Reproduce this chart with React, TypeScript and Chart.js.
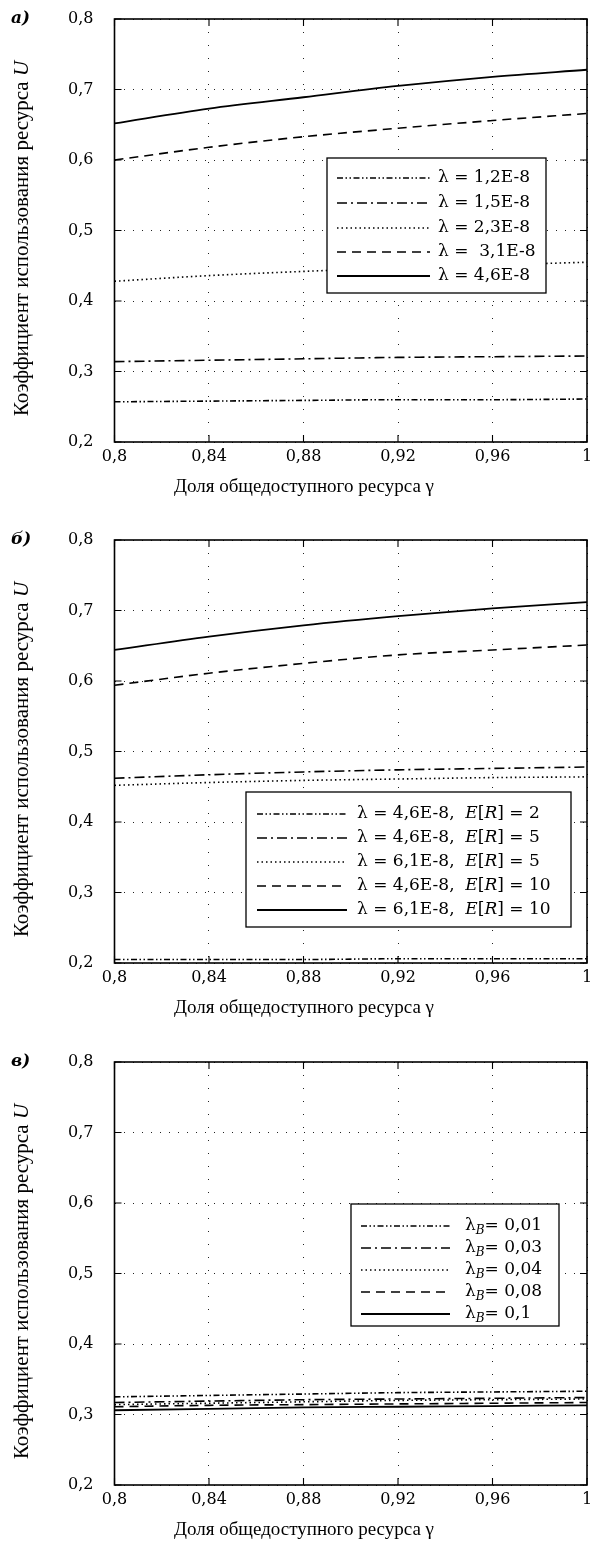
import React, { useEffect, useRef } from "react";
import { Chart, registerables } from "chart.js";

Chart.register(...registerables);

// ---------- data ----------
const xValues = [0.8, 0.84, 0.88, 0.92, 0.96, 1.0];
const xTicks = [0.8, 0.84, 0.88, 0.92, 0.96, 1.0];
const yTicks = [0.2, 0.3, 0.4, 0.5, 0.6, 0.7, 0.8];

const xTitle = "Доля общедоступного ресурса γ";
const yTitle = "Коэффициент использования ресурса *U*";

// Panel а
const aLetter = "а)";
const aLabels = ["λ = 1,2E-8", "λ = 1,5E-8", "λ = 2,3E-8", "λ =  3,1E-8", "λ = 4,6E-8"];
const aSeries1 = [0.257, 0.258, 0.259, 0.26, 0.26, 0.261];
const aSeries2 = [0.314, 0.316, 0.318, 0.32, 0.321, 0.322];
const aSeries3 = [0.428, 0.436, 0.442, 0.447, 0.451, 0.455];
const aSeries4 = [0.6, 0.618, 0.633, 0.645, 0.656, 0.666];
const aSeries5 = [0.652, 0.673, 0.689, 0.705, 0.718, 0.728];

// Panel б
const bLetter = "б)";
const bLabels = [
  "λ = 4,6E-8,  *E*[*R*] = 2",
  "λ = 4,6E-8,  *E*[*R*] = 5",
  "λ = 6,1E-8,  *E*[*R*] = 5",
  "λ = 4,6E-8,  *E*[*R*] = 10",
  "λ = 6,1E-8,  *E*[*R*] = 10",
];
const bSeries1 = [0.205, 0.205, 0.205, 0.206, 0.206, 0.206];
const bSeries2 = [0.462, 0.467, 0.471, 0.474, 0.476, 0.478];
const bSeries3 = [0.452, 0.456, 0.459, 0.461, 0.463, 0.464];
const bSeries4 = [0.594, 0.611, 0.625, 0.637, 0.644, 0.651];
const bSeries5 = [0.644, 0.663, 0.679, 0.692, 0.703, 0.712];

// Panel в
const cLetter = "в)";
const cLabels = ["λ_{B}= 0,01", "λ_{B}= 0,03", "λ_{B}= 0,04", "λ_{B}= 0,08", "λ_{B}= 0,1"];
const cSeries1 = [0.325, 0.327, 0.329, 0.331, 0.332, 0.333];
const cSeries2 = [0.317, 0.319, 0.321, 0.322, 0.323, 0.324];
const cSeries3 = [0.314, 0.316, 0.318, 0.32, 0.321, 0.322];
const cSeries4 = [0.311, 0.313, 0.314, 0.315, 0.316, 0.317];
const cSeries5 = [0.306, 0.308, 0.31, 0.311, 0.312, 0.313];

// ---------- styles ----------
const lineDashes = [[6, 2.5, 1.5, 2.5, 1.5, 2.5], [10, 4, 2, 4], [1.5, 3], [9, 6], []];
const lineWidths = [1.6, 1.6, 1.6, 1.6, 1.8];
const SERIF = '"DejaVu Serif", serif';
const TITLE_FONT = '"Liberation Serif", serif';

type Seg = { text: string; italic: boolean; sub: boolean };
function parseMarkup(s: string): Seg[] {
  const segs: Seg[] = [];
  let buf = "";
  let i = 0;
  const flush = () => {
    if (buf) segs.push({ text: buf, italic: false, sub: false });
    buf = "";
  };
  while (i < s.length) {
    const c = s[i];
    if (c === "*") {
      const j = s.indexOf("*", i + 1);
      flush();
      segs.push({ text: s.slice(i + 1, j), italic: true, sub: false });
      i = j + 1;
    } else if (c === "_" && s[i + 1] === "{") {
      const j = s.indexOf("}", i + 2);
      flush();
      segs.push({ text: s.slice(i + 2, j), italic: true, sub: true });
      i = j + 1;
    } else {
      buf += c;
      i++;
    }
  }
  flush();
  return segs;
}
const plain = (s: string) => parseMarkup(s).map((x) => x.text).join("");

const fmt = (v: number) => String(parseFloat(Number(v).toFixed(2))).replace(".", ",");

function drawRich(ctx: CanvasRenderingContext2D, markup: string, x: number, y: number, size: number, family: string, center: boolean) {
  const segs = parseMarkup(markup);
  const fontFor = (seg: Seg) => {
    const sz = seg.sub ? Math.round(size * 0.72) : size;
    return `${seg.italic ? "italic " : ""}${sz}px ${family}`;
  };
  let total = 0;
  for (const seg of segs) {
    ctx.font = fontFor(seg);
    total += ctx.measureText(seg.text).width;
  }
  let cx = center ? x - total / 2 : x;
  ctx.textBaseline = "middle";
  ctx.textAlign = "left";
  for (const seg of segs) {
    ctx.font = fontFor(seg);
    ctx.fillText(seg.text, cx, seg.sub ? y + 5 : y);
    cx += ctx.measureText(seg.text).width;
  }
}

type LegendBox = { box: [number, number, number, number]; lineX: [number, number]; textX: number; rows: number[]; fontSize: number };

function makePlugin(letter: string, labels: string[], L: LegendBox) {
  return {
    id: "frameLegend",
    afterDatasetsDraw(chart: any) {
      const ctx: CanvasRenderingContext2D = chart.ctx;
      const { left, right, top, bottom } = chart.chartArea;
      const xs = chart.scales.x;
      const ys = chart.scales.y;
      ctx.save();
      ctx.strokeStyle = "#000";
      ctx.setLineDash([]);
      // inward ticks
      ctx.lineWidth = 1.1;
      const tl = 7;
      ctx.beginPath();
      for (const v of xTicks) {
        const px = xs.getPixelForValue(v);
        ctx.moveTo(px, bottom);
        ctx.lineTo(px, bottom - tl);
        ctx.moveTo(px, top);
        ctx.lineTo(px, top + tl);
      }
      for (const v of yTicks) {
        const py = ys.getPixelForValue(v);
        ctx.moveTo(left, py);
        ctx.lineTo(left + tl, py);
        ctx.moveTo(right, py);
        ctx.lineTo(right - tl, py);
      }
      ctx.stroke();
      // frame
      ctx.lineWidth = 1.6;
      ctx.strokeRect(left, top, right - left, bottom - top);

      // legend
      const [bx0, by0, bx1, by1] = L.box;
      ctx.fillStyle = "#fff";
      ctx.fillRect(bx0, by0, bx1 - bx0, by1 - by0);
      ctx.lineWidth = 1.3;
      ctx.strokeRect(bx0, by0, bx1 - bx0, by1 - by0);
      chart.data.datasets.forEach((ds: any, i: number) => {
        const y = L.rows[i];
        ctx.setLineDash(ds.borderDash || []);
        ctx.lineWidth = ds.borderWidth;
        ctx.lineCap = "butt";
        ctx.beginPath();
        ctx.moveTo(L.lineX[0], y);
        ctx.lineTo(L.lineX[1], y);
        ctx.stroke();
        ctx.setLineDash([]);
        ctx.fillStyle = "#000";
        drawRich(ctx, labels[i], L.textX, y, L.fontSize, SERIF, false);
      });
      ctx.restore();
    },
    afterDraw(chart: any) {
      const ctx: CanvasRenderingContext2D = chart.ctx;
      const { top, bottom } = chart.chartArea;
      ctx.save();
      ctx.fillStyle = "#000";
      // panel letter
      ctx.font = `italic bold 17px ${SERIF}`;
      ctx.textBaseline = "middle";
      ctx.textAlign = "left";
      ctx.fillText(letter, 11, top);
      // x title
      drawRich(ctx, xTitle, 304, bottom + 45, 19, TITLE_FONT, true);
      // y title
      ctx.translate(22, (top + bottom) / 2 + 8);
      ctx.rotate(-Math.PI / 2);
      drawRich(ctx, yTitle, 0, 0, 21, TITLE_FONT, true);
      ctx.restore();
    },
  };
}

function buildConfig(series: number[][], labels: string[], letter: string, L: LegendBox): any {
  return {
    type: "line",
    data: {
      datasets: series.map((data, i) => ({
        label: plain(labels[i]),
        data: xValues.map((x, k) => ({ x, y: data[k] })),
        borderColor: "#000",
        backgroundColor: "#000",
        borderWidth: lineWidths[i],
        borderDash: lineDashes[i],
        borderCapStyle: "butt",
        pointRadius: 0,
        fill: false,
        cubicInterpolationMode: "monotone",
      })),
    },
    options: {
      animation: false,
      responsive: false,
      devicePixelRatio: 1,
      layout: { padding: { top: 19, left: 0, right: 11, bottom: 0 } },
      plugins: { legend: { display: false }, tooltip: { enabled: false } },
      scales: {
        x: {
          type: "linear",
          min: 0.8,
          max: 1,
          afterBuildTicks: (s: any) => {
            s.ticks = xTicks.map((v) => ({ value: v }));
          },
          afterFit: (s: any) => {
            s.height = 58;
            s.paddingLeft = 0;
            s.paddingRight = 0;
          },
          grid: { color: "#222", lineWidth: 1, drawTicks: false },
          border: { display: false, dash: [1, 12] },
          ticks: {
            color: "#000",
            font: { family: SERIF, size: 16 },
            padding: 5,
            maxRotation: 0,
            autoSkip: false,
            callback: (v: any) => fmt(v),
          },
          title: { display: false },
        },
        y: {
          type: "linear",
          min: 0.2,
          max: 0.8,
          afterBuildTicks: (s: any) => {
            s.ticks = yTicks.map((v) => ({ value: v }));
          },
          afterFit: (s: any) => {
            s.width = 114.5;
            s.paddingTop = 0;
            s.paddingBottom = 0;
          },
          grid: { color: "#222", lineWidth: 1, drawTicks: false },
          border: { display: false, dash: [1, 8] },
          ticks: {
            color: "#000",
            font: { family: SERIF, size: 16 },
            padding: 21,
            autoSkip: false,
            callback: (v: any) => fmt(v),
          },
          title: { display: false },
        },
      },
    },
    plugins: [makePlugin(letter, labels, L)],
  };
}

function Panel(props: { top: number; series: number[][]; labels: string[]; letter: string; legend: LegendBox }) {
  const ref = useRef<HTMLCanvasElement>(null);
  useEffect(() => {
    const chart = new Chart(ref.current as HTMLCanvasElement, buildConfig(props.series, props.labels, props.letter, props.legend));
    return () => chart.destroy();
  }, []);
  return (
    <canvas
      ref={ref}
      width={598}
      height={500}
      style={{ position: "absolute", left: 0, top: props.top, width: 598, height: 500 }}
    />
  );
}

export default function App() {
  useEffect(() => {
    document.body.style.margin = "0";
    document.body.style.overflow = "hidden";
  }, []);
  return (
    <div>
      <Panel
        top={0}
        letter={aLetter}
        labels={aLabels}
        series={[aSeries1, aSeries2, aSeries3, aSeries4, aSeries5]}
        legend={{ box: [327, 158, 546, 293], lineX: [337, 430], textX: 438, rows: [178, 203, 228, 252, 276], fontSize: 17 }}
      />
      <Panel
        top={521}
        letter={bLetter}
        labels={bLabels}
        series={[bSeries1, bSeries2, bSeries3, bSeries4, bSeries5]}
        legend={{ box: [246, 271, 571, 406], lineX: [257, 347], textX: 357, rows: [293, 317, 341, 365, 389], fontSize: 17 }}
      />
      <Panel
        top={1043}
        letter={cLetter}
        labels={cLabels}
        series={[cSeries1, cSeries2, cSeries3, cSeries4, cSeries5]}
        legend={{ box: [351, 161, 559, 283], lineX: [361, 450], textX: 465, rows: [183, 205, 227, 249, 271], fontSize: 17 }}
      />
    </div>
  );
}
